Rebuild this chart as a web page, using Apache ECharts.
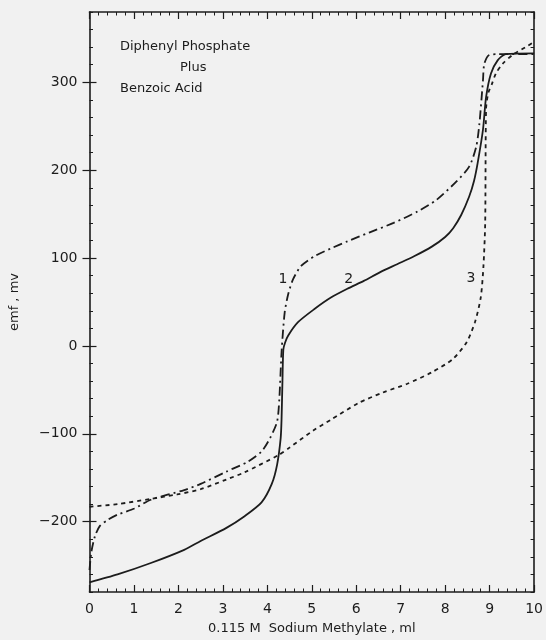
<!DOCTYPE html>
<html>
<head>
<meta charset="utf-8">
<script src="https://cdn.jsdelivr.net/npm/echarts@6/dist/echarts.min.js"></script>
<style>
  html, body { margin: 0; padding: 0; background: #f1f1f1; }
  #chart { width: 546px; height: 640px; }
</style>
</head>
<body>
<div id="chart"></div>
<script>
// curve 1 : dash-dot
const curve1X = [0, 0.04, 0.12, 0.23, 0.41, 0.63, 1.01, 1.38, 2.13, 2.5, 3.08, 3.55, 3.87, 4.06, 4.22, 4.27, 4.32, 4.39, 4.47, 4.58, 4.76, 5.06, 5.43, 5.8, 6.29, 6.84, 7.38, 7.8, 8.25, 8.54, 8.7, 8.77, 8.85, 8.88, 8.99, 9.2, 10];
const curve1Y = [-255, -235, -217, -205, -198, -192, -185, -175, -164, -157, -143, -132, -120, -105, -86, -60, -7, 38, 59, 76, 91, 102, 111, 119, 129, 140, 153, 166, 187, 204, 227, 253, 302, 321, 331, 332, 332];

// curve 2 : solid
const curve2X = [0, 0.63, 1.38, 2.13, 2.5, 3.08, 3.48, 3.87, 4.1, 4.22, 4.3, 4.32, 4.34, 4.36, 4.4, 4.47, 4.69, 5.06, 5.43, 5.8, 6.17, 6.54, 6.92, 7.3, 7.7, 8.0, 8.18, 8.36, 8.54, 8.65, 8.73, 8.85, 8.92, 9.03, 9.18, 9.36, 10];
const curve2Y = [-269, -260, -247, -232, -222, -207, -194, -178, -157, -135, -105, -83, -40, -4, 4, 12, 27, 42, 55, 65, 74, 84, 93, 102, 113, 124, 134, 149, 170, 188, 208, 246, 283, 310, 325, 332, 333];

// curve 3 : dotted
const curve3X = [0, 0.63, 1.38, 1.97, 2.5, 3.08, 3.48, 4.26, 4.49, 5.04, 5.43, 6.05, 6.6, 7.15, 7.7, 8.17, 8.48, 8.67, 8.8, 8.86, 8.9, 8.92, 8.97, 9.05, 9.14, 9.29, 9.51, 9.81, 10];
const curve3Y = [-183, -180, -174, -169, -163, -152, -144, -124, -116, -96, -84, -65, -53, -43, -30, -15, 4, 27, 55, 90, 140, 270, 288, 298, 310, 321, 331, 340, 346];

const xTicks = [0, 1, 2, 3, 4, 5, 6, 7, 8, 9, 10];
const yMajor = [-200, -100, 0, 100, 200, 300];
const curveNames = ['1', '2', '3'];
const curveLabelAt = [[4.35, 76], [5.83, 76], [8.58, 77]];

const ink = '#1c1c1c';
const font = 'DejaVu Sans';

function pairs(xs, ys) {
    return xs.map(function (x, i) { return [x, ys[i]]; });
}

var chart = echarts.init(document.getElementById('chart'));

const frameLine = { show: true, onZero: false, lineStyle: { color: ink, width: 1.6 } };

function yAxisOf(pos, withLabels, major) {
    return {
        type: 'value',
        position: pos,
        min: -280,
        max: 380,
        interval: 20,
        axisLine: major ? { show: false } : frameLine,
        axisTick: major
            ? { show: true, inside: true, length: 7, customValues: yMajor, lineStyle: { color: ink, width: 1.2 } }
            : { show: true, inside: true, length: 3.5, lineStyle: { color: ink, width: 1 } },
        axisLabel: withLabels
            ? { show: true, customValues: yMajor, color: ink, fontFamily: font, fontSize: 14, margin: 12,
                formatter: function (v) { return String(v).replace('-', '\u2212'); } }
            : { show: false },
        splitLine: { show: false },
        name: withLabels ? 'emf , mv' : '',
        nameLocation: 'middle',
        nameGap: 68,
        nameTextStyle: { color: ink, fontFamily: font, fontSize: 13 }
    };
}

function xAxisOf(pos, withLabels) {
    return {
        type: 'value',
        position: pos,
        min: 0,
        max: 10,
        interval: 1,
        axisLine: frameLine,
        axisTick: { show: true, inside: true, length: 7, lineStyle: { color: ink, width: 1.2 } },
        minorTick: { show: true, splitNumber: 5, length: 3.5, lineStyle: { color: ink, width: 1 } },
        axisLabel: withLabels
            ? { show: true, customValues: xTicks, color: ink, fontFamily: font, fontSize: 14, margin: 10 }
            : { show: false },
        splitLine: { show: false },
        minorSplitLine: { show: false },
        name: withLabels ? '0.115 M  Sodium Methylate , ml' : '',
        nameLocation: 'middle',
        nameGap: 30,
        nameTextStyle: { color: ink, fontFamily: font, fontSize: 13 }
    };
}

function curveSeries(i, data, dash) {
    return {
        name: curveNames[i],
        type: 'line',
        xAxisIndex: 0,
        yAxisIndex: 0,
        data: data,
        showSymbol: false,
        smooth: 0.25,
        clip: true,
        lineStyle: { color: ink, width: 1.8, type: dash },
        markPoint: {
            symbol: 'circle',
            symbolSize: 0,
            label: { show: true, color: ink, fontFamily: font, fontSize: 14, formatter: curveNames[i] },
            data: [{ coord: curveLabelAt[i] }]
        }
    };
}

option = {
    backgroundColor: '#f1f1f1',
    animation: false,
    grid: { left: 89.5, right: 7.5, top: 12, bottom: 46 },
    xAxis: [xAxisOf('bottom', true), xAxisOf('top', false)],
    yAxis: [
        yAxisOf('left', true, false),
        yAxisOf('right', false, false),
        yAxisOf('left', false, true),
        yAxisOf('right', false, true)
    ],
    graphic: [
        { type: 'text', left: 120, top: 40, style: { text: 'Diphenyl Phosphate', fill: ink, font: '13px "DejaVu Sans"' } },
        { type: 'text', left: 180, top: 61, style: { text: 'Plus', fill: ink, font: '13px "DejaVu Sans"' } },
        { type: 'text', left: 120, top: 82, style: { text: 'Benzoic Acid', fill: ink, font: '13px "DejaVu Sans"' } }
    ],
    series: [
        curveSeries(0, pairs(curve1X, curve1Y), [9, 4, 2, 4]),
        curveSeries(1, pairs(curve2X, curve2Y), 'solid'),
        curveSeries(2, pairs(curve3X, curve3Y), [4, 4])
    ]
};

chart.setOption(option);
</script>
</body>
</html>
